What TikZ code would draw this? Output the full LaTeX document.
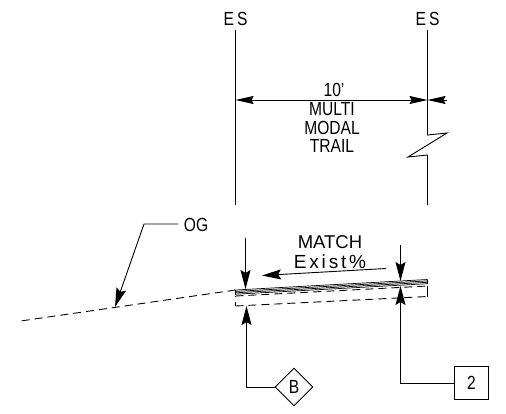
\documentclass[tikz,border=0pt]{standalone}
\usepackage{fontspec}
\setmainfont[FakeStretch=0.82]{Liberation Sans}
\newfontfamily\widefont{Liberation Sans}
\newfontfamily\spacedfont[LetterSpace=15]{Liberation Sans}
\usetikzlibrary{arrows.meta,calc,positioning,shapes.geometric}
\tikzset{
	every node/.style={
		font=\fontsize{19}{20}\selectfont,
		inner sep=0pt
	},
	callout/.style={
		shape=rectangle,
		draw,
		line width=0.9pt,
		minimum width=34.5pt,
		minimum height=33.5pt
	},
	keynote/.style={
		shape=diamond,
		draw,
		line width=0.9pt,
		minimum width=38pt,
		minimum height=38pt
	},
	leader/.style={
		-{Stealth[length=19pt,width=10pt,inset=3pt]},
		line width=0.9pt
	},
	dimline/.style={
		{Stealth[length=18pt,width=8pt,inset=2pt]}-{Stealth[length=18pt,width=8pt,inset=2pt]},
		line width=0.9pt
	},
	ground/.style={
		dash pattern=on 8pt off 5pt,
		line width=0.9pt
	}
}

\begin{document}
\begin{tikzpicture}[x=1pt,y=-1pt,line width=0.9pt]
	\useasboundingbox (0,0) rectangle (506,413);
	
	\node (ESleft)  at (235.5,19) {E\,S};
	\node (ESright) at (427.5,19) {E\,S};
	\node (width)   at (334,90)   {10'};
	\node (multi)   at (332,109)  {MULTI};
	\node (modal)   at (332,128)  {MODAL};
	\node (trail)   at (332,145.5) {TRAIL};
	\node[font=\fontsize{18.5}{20}\widefont] (match) at (330,242) {MATCH};
	\node[font=\fontsize{19}{20}\spacedfont] (exist) at (330,262) {Exist\%};
	\node (OG)      at (196,225)  {OG};
	\node[keynote]  (B)   at (294,387)   {B};
	\node[callout]  (two) at (471.5,383) {2};
	
	% edge of shoulder lines
	\coordinate (LT) at (235.5,30);
	\coordinate (LB) at (235.5,205);
	\coordinate (RT) at (427.5,30);
	\coordinate (RB) at (427.5,205);
	\draw (LT) -- (LB);
	\draw (RT) -- (427.5,135) -- (447,133) -- (408,157) -- (427.5,155) -- (RB);
	
	% width dimension
	\coordinate (dimL) at (235.5,100);
	\coordinate (dimR) at (427.5,100);
	\coordinate (dimO) at (447,100);
	\draw[dimline] (dimL) -- (dimR);
	\draw[-{Stealth[length=18pt,width=8pt,inset=2pt]}] (dimO) -- (dimR);
	
	% pavement and ground
	\coordinate (surfL) at (235.5,290);
	\coordinate (surfR) at (427.5,279.5);
	\coordinate (baseL) at (235.5,306);
	\coordinate (baseR) at (427.5,296.5);
	\coordinate (ogEnd) at (17,321.5);
	\foreach \d in {0,1.4,2.8,4.2}
		\draw[line width=0.7pt] (235.5,290+\d) -- (427.5,279.5+\d);
	\draw (surfL) -- (235.5,295);
	\draw (surfR) -- (427.5,284);
	\draw[ground] (235.5,296) -- (427.5,286);
	\draw[ground] (baseL) -- (baseR);
	\draw (235.5,296) -- (235.5,297);
	\draw (235.5,302) -- (baseL);
	\draw (427.5,286) -- (baseR);
	\draw[ground] (surfL) -- (ogEnd);
	
	% thickness arrows
	\coordinate (downLs) at (245.5,238);
	\coordinate (downLe) at (245.5,289);
	\coordinate (downRs) at (400.5,245);
	\coordinate (downRe) at (400.5,281);
	\coordinate (upL)    at (246.5,306);
	\coordinate (upR)    at (400.5,286);
	\draw[leader] (downLs) -- (downLe);
	\draw[leader] (downRs) -- (downRe);
	\draw[leader] (B.west) -| (upL);
	\draw[leader] (two.west) -| (upR);
	
	% slope and OG callouts
	\coordinate (slopeS) at (386,268.5);
	\coordinate (slopeE) at (262,275.5);
	\coordinate (ogBend) at (144,224);
	\coordinate (ogTip)  at (115,307);
	\draw[leader] (slopeS) -- (slopeE);
	\draw[leader] (OG.west) ++(-5,-1) -- (ogBend) -- (ogTip);
\end{tikzpicture}
\end{document}
